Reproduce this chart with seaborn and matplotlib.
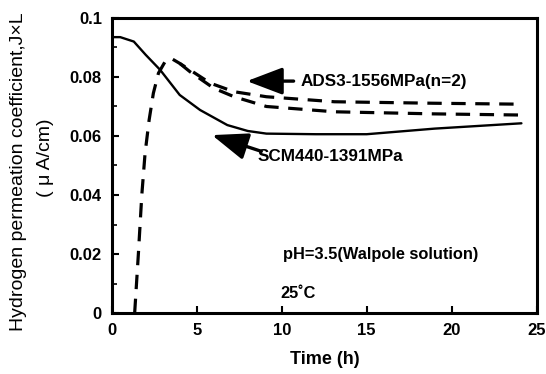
import matplotlib
matplotlib.use("Agg")
import matplotlib.pyplot as plt
import seaborn as sns
import pandas as pd
from matplotlib.ticker import MultipleLocator

# values
scm_time = [0.0, 0.5, 1.3, 2.0, 2.85, 4.0, 5.2, 6.8, 8.0, 9.1, 12.0, 15.0, 19.0, 24.1]
scm_coef = [0.0935, 0.0935, 0.0920, 0.0875, 0.0824, 0.0739, 0.0688, 0.0637, 0.0617, 0.0608, 0.0606, 0.0606, 0.0625, 0.0643]

ads_a_time = [1.35, 1.57, 1.77, 1.96, 2.2, 2.45, 2.75, 3.14, 3.5, 4.0, 4.6, 5.8, 7.2, 9.1, 13.1, 18.9, 23.7]
ads_a_coef = [0.0, 0.0202, 0.040, 0.054, 0.0654, 0.0745, 0.0813, 0.0852, 0.0863, 0.0846, 0.0824, 0.0779, 0.0750, 0.0733, 0.0716, 0.0711, 0.0708]

ads_b_time = [4.0, 4.6, 6.0, 7.2, 9.1, 13.1, 18.9, 24.1]
ads_b_coef = [0.0846, 0.0818, 0.0762, 0.0733, 0.0700, 0.0682, 0.0675, 0.0671]

x_ticks = [0, 5, 10, 15, 20, 25]
y_ticks = [0, 0.02, 0.04, 0.06, 0.08, 0.1]
y_tick_labels = ["0", "0.02", "0.04", "0.06", "0.08", "0.1"]

sns.set_style("ticks", {"axes.edgecolor": "black", "text.color": "black",
                        "xtick.color": "black", "ytick.color": "black",
                        "axes.labelcolor": "black"})
plt.rcParams["font.family"] = ["Liberation Sans", "DejaVu Sans"]

fig = plt.figure(figsize=(5.46, 3.74), dpi=100)
ax = fig.add_axes([0.2046, 0.163, 0.7784, 0.789])

scm = pd.DataFrame({"t": scm_time, "j": scm_coef})
ads_a = pd.DataFrame({"t": ads_a_time, "j": ads_a_coef})
ads_b = pd.DataFrame({"t": ads_b_time, "j": ads_b_coef})

sns.lineplot(data=scm, x="t", y="j", ax=ax, color="black", lw=1.7, sort=False)
sns.lineplot(data=ads_a, x="t", y="j", ax=ax, color="black", lw=2.3,
             linestyle=(0, (4.5, 3)), sort=False)
sns.lineplot(data=ads_b, x="t", y="j", ax=ax, color="black", lw=2.3,
             linestyle=(0, (4.5, 3)), sort=False)

ax.set_xlim(0, 25)
ax.set_ylim(0, 0.1)
ax.set_xticks(x_ticks)
ax.set_yticks(y_ticks)
ax.set_yticklabels(y_tick_labels)
ax.yaxis.set_minor_locator(MultipleLocator(0.01))
ax.tick_params(axis="both", which="major", direction="in", length=5, width=1.5,
               labelsize=12, pad=7, colors="black")
ax.tick_params(axis="y", which="minor", direction="in", length=3.5, width=1.2, colors="black")
for lab in ax.get_xticklabels() + ax.get_yticklabels():
    lab.set_fontweight("bold")
for side in ax.spines.values():
    side.set_linewidth(2.2)
    side.set_color("black")

ax.set_xlabel("")
ax.set_ylabel("")
fig.text(0.594, 0.04, "Time (h)", ha="center", va="center", fontsize=13, fontweight="bold")
fig.text(0.033, 0.54, "Hydrogen permeation coefficient,J\u00d7L", rotation=90,
         ha="center", va="center", fontsize=14)
fig.text(0.083, 0.577, "( \u03bc A/cm)", rotation=90, ha="center", va="center", fontsize=14)

arrow = dict(arrowstyle="-|>,head_length=1.0,head_width=0.38", color="black", lw=2.4,
             mutation_scale=22, shrinkA=0, shrinkB=0)
ax.annotate("", xy=(7.95, 0.0786), xytext=(10.7, 0.0786), arrowprops=arrow)
ax.text(11.1, 0.0786, "ADS3-1556MPa(n=2)", ha="left", va="center", fontsize=12.3, fontweight="bold")
ax.annotate("", xy=(5.9, 0.0603), xytext=(8.8, 0.0548), arrowprops=arrow)
ax.text(8.6, 0.0532, "SCM440-1391MPa", ha="left", va="center", fontsize=12.3, fontweight="bold")
ax.text(10.05, 0.0197, "pH=3.5(Walpole solution)", ha="left", va="center", fontsize=11.8, fontweight="bold")
ax.text(9.95, 0.0067, "25\u02daC", ha="left", va="center", fontsize=11.8, fontweight="bold")

fig.savefig("out.png", dpi=100)
